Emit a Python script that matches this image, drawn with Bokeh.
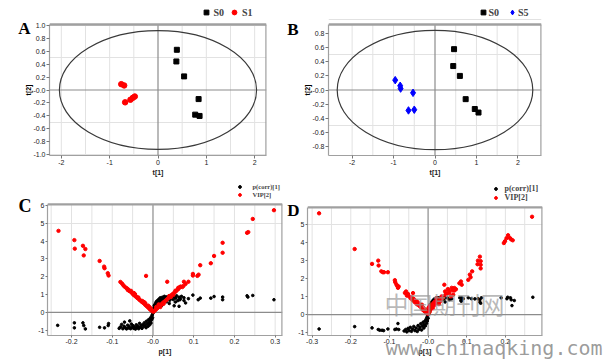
from bokeh.plotting import figure
from bokeh.layouts import row, column
from bokeh.models import (Range1d, FixedTicker, Label, Legend, LegendItem, LinearAxis)
from bokeh.embed import file_html
from bokeh.resources import INLINE

# ---------------- data ----------------
# Panel A: PCA scores S0 vs S1
a_s0_t1 = [0.39, 0.38, 0.54, 0.84, 0.77, 0.86]
a_s0_t2 = [0.62, 0.44, 0.21, -0.14, -0.38, -0.40]
a_s1_t1 = [-0.76, -0.70, -0.68, -0.57, -0.52, -0.48]
a_s1_t2 = [0.09, 0.07, -0.19, -0.15, -0.12, -0.10]
a_ellipse = [2.04, 0.915]          # Hotelling T2 semi-axes (t1, t2)

# Panel B: PCA scores S0 vs S5
b_s0_t1 = [0.46, 0.44, 0.60, 0.74, 0.96, 1.05]
b_s0_t2 = [0.58, 0.34, 0.20, -0.13, -0.27, -0.32]
b_s5_t1 = [-0.96, -0.84, -0.83, -0.53, -0.64, -0.50]
b_s5_t2 = [0.14, 0.06, 0.02, -0.04, -0.29, -0.28]
b_ellipse = [2.36, 0.848]

# Panel C: p[1] vs p(corr)[1] (black) and VIP[2] (red)
c_pc_p = [-0.234, -0.193, -0.193, -0.172, -0.170, -0.166, -0.131, -0.119, -0.109, -0.110,
          -0.083, -0.080, -0.077, -0.074, -0.071, -0.070, -0.068, -0.065, -0.062, -0.060,
          -0.058, -0.057, -0.055, -0.053, -0.051, -0.049, -0.047, -0.045, -0.043, -0.041,
          -0.039, -0.037, -0.035, -0.033, -0.031, -0.029, -0.027, -0.025, -0.023, -0.021,
          -0.019, -0.017, -0.016, -0.014, -0.012, -0.011, -0.009, -0.008, -0.007, -0.006,
          -0.005, -0.004, -0.003, -0.002, -0.001, 0.000,
          0.001, 0.002, 0.003, 0.004, 0.005, 0.006, 0.007, 0.008, 0.009, 0.010,
          0.012, 0.013, 0.014, 0.015, 0.017, 0.018, 0.020, 0.021, 0.022, 0.023,
          0.024, 0.026, 0.028, 0.029, 0.031, 0.033, 0.035, 0.037, 0.039, 0.040,
          0.041, 0.043, 0.045, 0.048, 0.050, 0.052, 0.053, 0.055, 0.056, 0.058,
          0.061, 0.064, 0.064, 0.066, 0.067, 0.070, 0.076, 0.076, 0.080, 0.087,
          0.098, 0.111, 0.116, 0.142, 0.150, 0.171, 0.171, 0.231, 0.233, 0.245, 0.297]
c_pc_v = [-0.73, -0.59, -0.87, -0.59, -0.74, -0.93, -0.84, -0.87, -0.63, -0.74,
          -0.90, -0.82, -0.68, -0.92, -0.78, -0.55, -0.86, -0.93, -0.72, -0.88,
          -0.80, -0.48, -0.92, -0.66, -0.85, -0.75, -0.90, -0.82, -0.94, -0.70,
          -0.86, -0.78, -0.92, -0.62, -0.83, -0.74, -0.90, -0.68, -0.80, -0.58,
          -0.72, -0.86, -0.50, -0.64, -0.78, -0.42, -0.56, -0.70, -0.34, -0.48,
          -0.60, -0.25, -0.40, -0.15, -0.30, -0.05,
          0.10, 0.25, 0.38, 0.18, 0.45, 0.30, 0.55, 0.40, 0.62, 0.50,
          0.68, 0.35, 0.58, 0.75, 0.65, 0.82, 0.55, 0.72, 0.40, 0.85,
          0.62, 0.78, 0.90, 0.70, 0.83, 0.60, 0.88, 0.76, 0.92, 0.50,
          0.68, 0.84, 0.78, 0.90, 0.72, 0.37, 0.86, 0.58, 0.80, 0.93,
          0.66, 0.85, 0.34, 0.71, 0.76, 0.90, 0.82, 0.67, 0.53, 0.77,
          0.97, 0.71, 0.80, 0.80, 0.89, 0.86, 0.71, 0.93, 0.86, 0.95, 0.71]
c_vip_p = [-0.232, -0.193, -0.192, -0.172, -0.166, -0.170, -0.131, -0.120, -0.119, -0.111,
           -0.109, -0.017, -0.080, -0.076, -0.073, -0.070, -0.066, -0.063, -0.062, -0.060,
           -0.058, -0.055, -0.054, -0.052, -0.050, -0.048, -0.047, -0.045, -0.044, -0.043,
           -0.040, -0.038, -0.036, -0.035, -0.033, -0.030, -0.028, -0.026, -0.025, -0.023,
           -0.022, -0.020, -0.019, -0.018, -0.015, -0.013, -0.012, -0.010, -0.009, -0.008,
           -0.006, -0.005, -0.004, -0.002,
           0.001, 0.003, 0.005, 0.007, 0.008, 0.009, 0.011, 0.013, 0.014, 0.015,
           0.017, 0.018, 0.019, 0.021, 0.023, 0.025, 0.026, 0.027, 0.030, 0.033,
           0.035, 0.036, 0.039, 0.040, 0.042, 0.044, 0.045, 0.048, 0.050, 0.051,
           0.054, 0.055, 0.057, 0.060, 0.062, 0.063, 0.066, 0.068, 0.072, 0.075,
           0.076, 0.080, 0.087, 0.098, 0.098, 0.109, 0.112, 0.116, 0.142, 0.150,
           0.171, 0.171, 0.231, 0.234, 0.245, 0.297]
c_vip_v = [4.58, 4.06, 3.58, 3.74, 3.56, 3.20, 2.89, 2.57, 2.48, 2.20,
           2.07, 2.05, 1.71, 1.62, 1.53, 1.45, 1.38, 1.33, 1.26, 1.27,
           1.20, 1.17, 1.21, 1.10, 1.06, 0.99, 1.09, 0.95, 1.02, 0.90,
           0.86, 0.80, 0.84, 0.76, 0.70, 0.66, 0.60, 0.64, 0.56, 0.52,
           0.58, 0.46, 0.52, 0.40, 0.35, 0.30, 0.38, 0.24, 0.31, 0.19,
           0.15, 0.22, 0.11, 0.07,
           0.04, 0.08, 0.12, 0.16, 0.30, 0.21, 0.25, 0.29, 0.45, 0.33,
           0.37, 0.30, 0.41, 0.45, 0.50, 0.54, 0.48, 0.58, 0.64, 0.70,
           1.72, 0.77, 0.83, 0.92, 0.89, 0.86, 0.96, 1.02, 0.98, 1.08,
           1.14, 1.22, 1.20, 1.27, 1.38, 1.33, 1.42, 1.45, 1.42, 1.49,
           1.72, 1.60, 1.72, 2.16, 2.07, 2.05, 2.12, 2.65, 2.76, 3.17,
           3.91, 3.35, 4.47, 4.51, 5.25, 5.74]

# Panel D
d_pc_p = [-0.282, -0.190, -0.145, -0.129, -0.125, -0.119, -0.115, -0.104, -0.086, -0.082,
          -0.078, -0.076, -0.062, -0.058, -0.055, -0.052, -0.049, -0.046, -0.043, -0.040,
          -0.037, -0.034, -0.031, -0.028, -0.026, -0.024, -0.021, -0.019, -0.017, -0.015,
          -0.013, -0.011, -0.010, -0.008, -0.007, -0.005, -0.004, -0.003, -0.002, -0.001, 0.000,
          0.001, 0.002, 0.003, 0.005, 0.006, 0.008, 0.009, 0.011, 0.013, 0.015,
          0.017, 0.018, 0.019, 0.022, 0.024, 0.027, 0.027, 0.030, 0.033, 0.036,
          0.040, 0.044, 0.044, 0.050, 0.055, 0.061, 0.082, 0.085, 0.086, 0.087,
          0.091, 0.104, 0.112, 0.121, 0.129, 0.134, 0.134, 0.136, 0.138, 0.189,
          0.204, 0.206, 0.213, 0.215, 0.217, 0.223, 0.271]
d_pc_v = [-0.79, -0.66, -0.73, -0.82, -0.86, -0.86, -0.88, -0.79, -0.82, -0.79,
          -0.49, -0.82, -0.90, -0.82, -0.95, -0.76, -0.88, -0.70, -0.92, -0.80,
          -0.65, -0.88, -0.74, -0.93, -0.60, -0.82, -0.70, -0.50, -0.85, -0.62,
          -0.42, -0.74, -0.55, -0.35, -0.62, -0.25, -0.48, -0.15, -0.35, -0.05, -0.20,
          0.12, 0.30, 0.45, 0.22, 0.58, 0.38, 0.70, 0.52, 0.80, 0.62,
          0.88, 0.87, 0.72, 0.93, 0.80, 0.66, 0.93, 0.90, 0.78, 0.94,
          0.85, 0.70, 0.93, 0.92, 0.82, 0.87, 0.93, 0.78, 0.74, 0.93,
          0.88, 0.93, 0.88, 0.87, 0.88, 0.82, 0.69, 0.63, 0.93, 0.93,
          0.88, 0.96, 0.93, 0.82, 0.50, 0.78, 0.96]
d_vip_p = [-0.282, -0.190, -0.145, -0.129, -0.128, -0.121, -0.117, -0.114, -0.104, -0.086,
           -0.085, -0.082, -0.080, -0.076, -0.078, -0.060, -0.057, -0.055, -0.052, -0.049,
           -0.045, -0.042, -0.039, -0.040, -0.037, -0.035, -0.033, -0.030, -0.029, -0.027,
           -0.025, -0.022, -0.021, -0.018, -0.016, -0.014, -0.012, -0.010, -0.008, -0.006,
           -0.003, -0.001,
           0.001, 0.002, 0.003, 0.004, 0.005, 0.006, 0.008, 0.010, 0.012, 0.014,
           0.015, 0.018, 0.020, 0.022, 0.025, 0.028, 0.031, 0.032, 0.035, 0.038,
           0.042, 0.044, 0.045, 0.048, 0.051, 0.054, 0.055, 0.059, 0.061, 0.063,
           0.065, 0.068, 0.068, 0.072, 0.081, 0.085, 0.087, 0.104, 0.108, 0.110,
           0.114, 0.128, 0.129, 0.134, 0.136, 0.136, 0.136, 0.196, 0.199, 0.203,
           0.207, 0.212, 0.215, 0.219, 0.269]
d_vip_v = [5.59, 3.62, 2.80, 2.98, 2.71, 2.39, 2.34, 2.34, 2.34, 1.90,
           1.79, 1.66, 1.60, 1.55, 1.48, 1.20, 1.28, 1.05, 1.14, 1.01,
           0.90, 0.95, 1.19, 0.80, 0.86, 0.70, 0.77, 0.60, 0.73, 0.55,
           0.64, 0.50, 0.46, 0.40, 0.55, 0.27, 0.37, 0.20, 0.27, 0.12,
           0.09, 0.05,
           0.37, 0.08, 0.20, 0.15, 0.49, 0.30, 0.42, 0.55, 0.35, 0.64,
           0.50, 0.73, 0.62, 0.90, 0.70, 0.58, 0.82, 0.75, 1.01, 0.92,
           1.65, 1.28, 1.10, 1.15, 1.41, 1.33, 1.20, 1.01, 1.48, 1.34,
           1.10, 1.47, 1.33, 1.40, 1.73, 1.83, 1.65, 1.92, 2.21, 2.06,
           2.39, 2.78, 2.98, 3.20, 2.95, 2.75, 2.55, 3.95, 4.05, 4.22,
           4.38, 4.22, 4.15, 4.10, 5.40]

# ticks and tick labels
a_xticks = [-2, -1, 0, 1, 2]
a_xlabels = ["-2", "-1", "0", "1", "2"]
a_yticks = [-1.0, -0.8, -0.6, -0.4, -0.2, 0.0, 0.2, 0.4, 0.6, 0.8, 1.0]
a_ylabels = ["-1.0", "-0.8", "-0.6", "-0.4", "-0.2", "-0.0", "0.2", "0.4", "0.6", "0.8", "1.0"]
b_yticks = [-0.8, -0.6, -0.4, -0.2, 0.0, 0.2, 0.4, 0.6, 0.8]
b_ylabels = ["-0.8", "-0.6", "-0.4", "-0.2", "-0.0", "0.2", "0.4", "0.6", "0.8"]
ab_xgrid = [-2.0, -1.5, -1.0, -0.5, 0.5, 1.0, 1.5, 2.0]
ab_ygrid = [-1.0, -0.5, 0.5, 1.0]
c_xticks = [-0.2, -0.1, 0.0, 0.1, 0.2, 0.3]
c_xlabels = ["-0.2", "-0.1", "-0.0", "0.1", "0.2", "0.3"]
d_xticks = [-0.3, -0.2, -0.1, 0.0, 0.1, 0.2]
d_xlabels = ["-0.3", "-0.2", "-0.1", "-0.0", "0.1", "0.2"]
c_yticks = [-1, 0, 1, 2, 3, 4, 5, 6]
c_ylabels = ["-1", "0", "1", "2", "3", "4", "5", "6"]
d_yticks = [-1, 0, 1, 2, 3, 4, 5]
d_ylabels = ["-1", "0", "1", "2", "3", "4", "5"]
c_xgrid = [-0.25, -0.2, -0.15, -0.1, -0.05, 0.05, 0.1, 0.15, 0.2, 0.25, 0.3]
d_xgrid = [-0.3, -0.25, -0.2, -0.15, -0.1, -0.05, 0.05, 0.1, 0.15, 0.2, 0.25]
cd_ygrid = [5]

SANS = "Liberation Sans"
SERIF = "Liberation Serif"
EDGE = "#a0a0a0"
GRID = "#e2e2e2"
ZERO = "#8c8c8c"


def make_panel(w, h, vis, top_px, xr, yr, xt, xl, yt, yl, xg, yg, tick_out):
    """vis = visible box (left, right, top, bottom) in canvas px; the real frame
    reaches up to top_px so that legends above the box are not clipped."""
    l, r, t, b = vis
    ppu = (b - t) / (yr[1] - yr[0])
    ytop = yr[1] + (t - top_px) / ppu
    p = figure(width=w, height=h, x_range=Range1d(*xr), y_range=Range1d(yr[0], ytop),
               output_backend="svg", toolbar_location=None, title=None,
               min_border_left=l, min_border_right=w - r,
               min_border_top=top_px, min_border_bottom=h - b)
    p.outline_line_color = None
    p.xgrid.visible = False
    p.ygrid.ticker = FixedTicker(ticks=yg)
    p.ygrid.grid_line_color = GRID
    for ax in (p.xaxis[0], p.yaxis[0]):
        ax.axis_line_color = EDGE
        ax.axis_line_width = 1.2
        ax.major_tick_line_color = "#777777"
        ax.major_tick_out = tick_out
        ax.major_tick_in = 0
        ax.minor_tick_out = 0
        ax.minor_tick_in = 0
        ax.minor_tick_line_color = None
        ax.major_label_text_font = SANS
        ax.major_label_text_font_size = "7px"
        ax.major_label_text_color = "#222222"
        ax.major_label_standoff = 1
        ax.axis_label_text_font = SANS
        ax.axis_label_text_font_size = "7px"
        ax.axis_label_text_font_style = "bold"
        ax.axis_label_text_color = "#222222"
        ax.axis_label_standoff = 1
    p.xaxis[0].ticker = FixedTicker(ticks=xt)
    p.xaxis[0].major_label_overrides = dict(zip(xt, xl))
    p.yaxis[0].ticker = FixedTicker(ticks=yt)
    p.yaxis[0].major_label_overrides = dict(zip(yt, yl))
    p.yaxis[0].bounds = (yr[0], yr[1])
    n = len(xg)
    # vertical grid lines, zero lines and the top/right edges of the box
    p.segment(x0=xg, y0=[yr[0]] * n, x1=xg, y1=[yr[1]] * n, line_color=GRID, line_width=1)
    p.segment(x0=[0, xr[0]], y0=[yr[0], 0], x1=[0, xr[1]], y1=[yr[1], 0],
              line_color=ZERO, line_width=1.2)
    p.segment(x0=[xr[0], xr[1]], y0=[yr[1], yr[0]], x1=[xr[1], xr[1]], y1=[yr[1], yr[1]],
              line_color=EDGE, line_width=2.4)
    p._vis = (l, r, t, b, ppu, yr)
    return p


def side_text_axis(p, side, tick, text, font, size, style, standoff, color="black",
                   alpha=1.0, orientation="horizontal"):
    ax = LinearAxis(ticker=FixedTicker(ticks=[tick]), major_label_overrides={tick: text},
                    axis_line_color=None, major_tick_line_color=None,
                    minor_tick_line_color=None, major_tick_out=0, major_tick_in=0,
                    minor_tick_out=0, minor_tick_in=0, major_label_standoff=standoff,
                    major_label_text_font=font, major_label_text_font_size=size,
                    major_label_text_font_style=style, major_label_text_color=color,
                    major_label_text_alpha=alpha, major_label_orientation=orientation)
    p.add_layout(ax, side)


def y_at(p, px):
    l, r, t, b, ppu, yr = p._vis
    return yr[1] - (px - t) / ppu


def legend(p, items, loc, orientation, spacing, gw, standoff, fsize):
    p.add_layout(Legend(items=[LegendItem(label=s, renderers=[rr]) for s, rr in items],
                        location=loc, orientation=orientation, padding=0, margin=0,
                        spacing=spacing, glyph_width=gw, glyph_height=gw,
                        label_standoff=standoff, label_width=5, label_height=gw,
                        label_text_font=SERIF, label_text_font_style="bold",
                        label_text_font_size=fsize, border_line_color=None,
                        background_fill_alpha=0))


# ---------------- Panel A ----------------
pa = make_panel(284, 180, (49, 266, 24, 155), 3, (-2.245, 2.245), (-1.01, 1.01),
                a_xticks, a_xlabels, a_yticks, a_ylabels, ab_xgrid, ab_ygrid, 3)
pa.xaxis[0].axis_label = "t[1]"
pa.ellipse(x=[0], y=[0], width=[2 * a_ellipse[0]], height=[2 * a_ellipse[1]],
           fill_color=None, line_color="#3a3a3a", line_width=1.2)
ra0 = pa.scatter(a_s0_t1, a_s0_t2, marker="square", size=5, color="black")
ra1 = pa.scatter(a_s1_t1, a_s1_t2, marker="circle", size=5.5, color="#ff0000")
legend(pa, [("S0", ra0), ("S1", ra1)], (150.5, 137), "horizontal", 4, 12, 2, "10px")
side_text_axis(pa, "left", 0.0, "t[2]", SANS, "7px", "bold", -1, orientation="vertical")
side_text_axis(pa, "left", y_at(pa, 28), "A", SERIF, "17px", "bold", -9)

# ---------------- Panel B ----------------
pb = make_panel(320, 180, (41, 257, 24, 155), 3, (-2.57, 2.57), (-0.93, 0.93),
                a_xticks, a_xlabels, b_yticks, b_ylabels, ab_xgrid, ab_ygrid, 3)
pb.xaxis[0].axis_label = "t[1]"
pb.ellipse(x=[0], y=[0], width=[2 * b_ellipse[0]], height=[2 * b_ellipse[1]],
           fill_color=None, line_color="#3a3a3a", line_width=1.2)
rb0 = pb.scatter(b_s0_t1, b_s0_t2, marker="square", size=5, color="black")
rb5 = pb.scatter(b_s5_t1, b_s5_t2, marker="diamond", size=7.5, color="#0000ff")
legend(pb, [("S0", rb0), ("S5", rb5)], (148.5, 137), "horizontal", 7, 12, 0, "10px")
side_text_axis(pb, "left", 0.0, "t[2]", SANS, "7px", "bold", -1, orientation="vertical")
side_text_axis(pb, "left", y_at(pb, 28.5), "B", SERIF, "17px", "bold", 2)

# ---------------- Panel C ----------------
pc = make_panel(284, 182, (47, 282, 24, 156), 0, (-0.259, 0.318), (-1.30, 6.07),
                c_xticks, c_xlabels, c_yticks, c_ylabels, c_xgrid, cd_ygrid, 2)
pc.xaxis[0].axis_label = "p[1]"
rc0 = pc.scatter(c_pc_p, c_pc_v, marker="circle", size=2.6, color="black")
rc1 = pc.scatter(c_vip_p, c_vip_v, marker="circle", size=3.4, color="#ff0000")
legend(pc, [("p(corr)[1]", rc0), ("VIP[2]", rc1)], (188.5, 137), "vertical", 1, 7, 10, "6.5px")
side_text_axis(pc, "left", y_at(pc, 26), "C", SERIF, "18px", "bold", 4)

# ---------------- Panel D ----------------
pd_ = make_panel(320, 182, (21, 258, 27, 156), 0, (-0.312, 0.296), (-1.15, 5.92),
                 d_xticks, d_xlabels, d_yticks, d_ylabels, d_xgrid, cd_ygrid, 2)
pd_.xaxis[0].axis_label = "p[1]"
rd0 = pd_.scatter(d_pc_p, d_pc_v, marker="circle", size=2.6, color="black")
rd1 = pd_.scatter(d_vip_p, d_vip_v, marker="circle", size=3.4, color="#ff0000")
legend(pd_, [("p(corr)[1]", rd0), ("VIP[2]", rd1)], (184.5, 133), "vertical", 0, 7, 6, "8px")
side_text_axis(pd_, "left", y_at(pd_, 30.5), "D", SERIF, "17px", "bold", -4)

# watermark printed over the source image
pd_.add_layout(Label(x=77, y=15, x_units="screen", y_units="screen", text="中国期刊网",
                     text_font="Noto Sans CJK SC", text_font_size="24px",
                     text_color="#9a9a9a", text_alpha=0.7, text_baseline="bottom"))
side_text_axis(pd_, "below", 0.171, "www.chinaqking.com", "DejaVu Sans Mono", "20px",
               "normal", -22, color="#8a8a8a", alpha=0.85)

layout = column(row(pa, pb), row(pc, pd_))
open("out.html", "w").write(file_html(layout, INLINE))
